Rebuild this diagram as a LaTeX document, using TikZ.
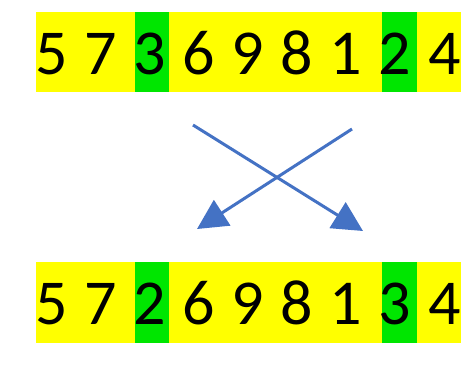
\documentclass[tikz,border=0pt]{standalone}
\usepackage{fontspec}
\setmainfont{Carlito}
\usetikzlibrary{arrows.meta}
\definecolor{baryellow}{RGB}{255,255,0}
\definecolor{bargreen}{RGB}{0,230,0}
\definecolor{arrowblue}{RGB}{68,114,196}
\tikzset{
  bar/.style={fill=baryellow, draw=none, inner sep=0pt, anchor=north west},
  mark box/.style={fill=bargreen, draw=none, inner sep=0pt, anchor=north west},
  digit/.style={font=\fontsize{64}{64}\selectfont, inner sep=0pt, anchor=base},
  swaparrow/.style={draw=arrowblue, line width=3pt, -{Triangle[length=30pt,width=30pt]}}
}
\begin{document}
\begin{tikzpicture}[x=1pt,y=-1pt]
\useasboundingbox (0,0) rectangle (461,365);
% top row
\node[bar, minimum width=425pt, minimum height=80pt] (topbar) at (36,12) {};
\node[mark box, minimum width=34pt, minimum height=80pt] (topg1) at (135,12) {};
\node[mark box, minimum width=35pt, minimum height=80pt] (topg2) at (382,12) {};
\foreach \d [count=\i from 0] in {5,7,3,6,9,8,1,2,4} {
  \node[digit] (t\i) at ({51.5+49.1*\i},74) {\d};
}
% bottom row
\node[bar, minimum width=425pt, minimum height=81pt] (botbar) at (36,262) {};
\node[mark box, minimum width=34pt, minimum height=81pt] (botg1) at (135,262) {};
\node[mark box, minimum width=35pt, minimum height=81pt] (botg2) at (382,262) {};
\foreach \d [count=\i from 0] in {5,7,2,6,9,8,1,3,4} {
  \node[digit] (b\i) at ({51.5+49.1*\i},324) {\d};
}
% arrows
\coordinate (a1s) at (193,125);
\coordinate (a1e) at (363,231);
\coordinate (a2s) at (352,129);
\coordinate (a2e) at (197,229);
\draw[swaparrow] (a1s) -- (a1e);
\draw[swaparrow] (a2s) -- (a2e);
\end{tikzpicture}
\end{document}
